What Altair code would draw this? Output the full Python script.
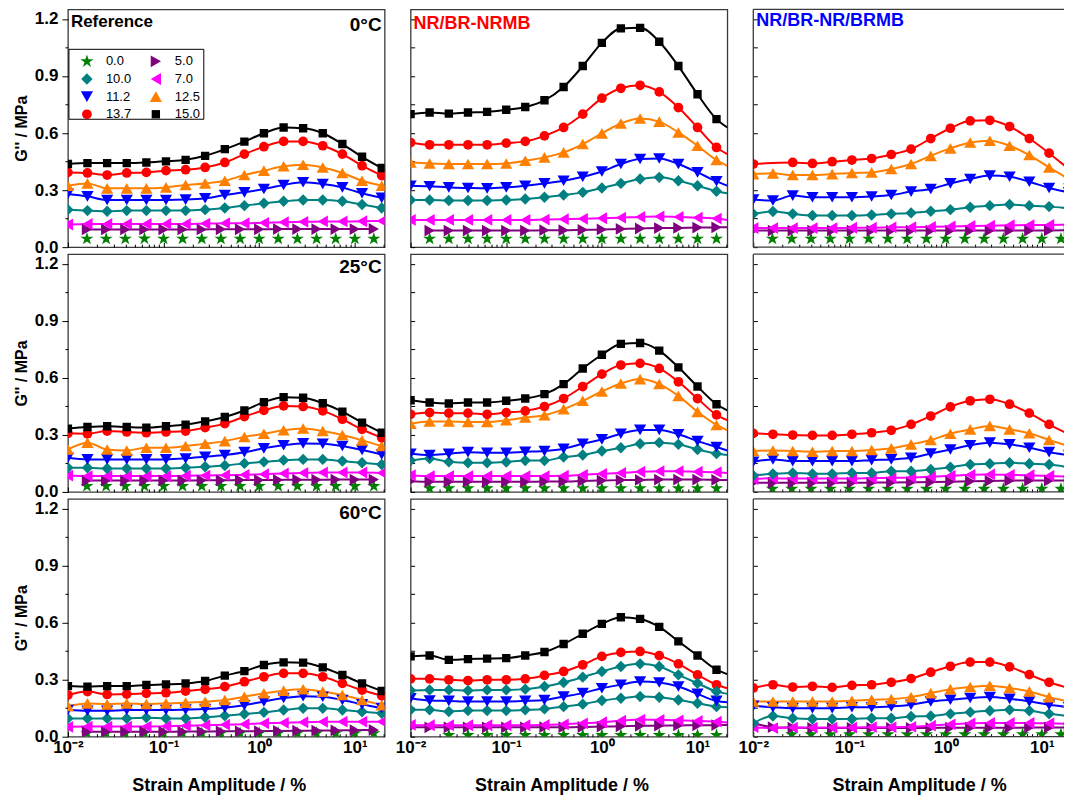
import altair as alt
import pandas as pd

FONT = "Liberation Sans"
FRAME = "#3a3a3a"

# Strain amplitude grids (%) of the two sweep programmes
STRAIN_A = [0.01, 0.016, 0.0257, 0.0412, 0.0661, 0.106, 0.170, 0.272, 0.437, 0.700,
            1.12, 1.80, 2.88, 4.62, 7.41, 11.9, 19.1]
STRAIN_B = [0.01, 0.0158, 0.0251, 0.0398, 0.0631, 0.1, 0.158, 0.251, 0.398, 0.631,
            1.0, 1.58, 2.51, 3.98, 6.31, 10.0, 15.8]
FIT_END = 20.5  # strain where the fitted curves of the NR/BR-NRMB series end

# Filler loading (legend order, filled row by row in two columns)
SERIES = ["0.0", "5.0", "10.0", "7.0", "11.2", "12.5", "13.7", "15.0"]
KEY_COL = [0, 1, 0, 1, 0, 1, 0, 1]
KEY_ROW = [0, 0, 1, 1, 2, 2, 3, 3]
COLORS = ["#008000", "#800080", "#008080", "#FF00FF", "#0000FF", "#FF8000", "#FF0000", "#000000"]
STAR = ("M0,-1L0.2245,-0.309L0.951,-0.309L0.363,0.118L0.588,0.809L0,0.382"
        "L-0.588,0.809L-0.363,0.118L-0.951,-0.309L-0.2245,-0.309Z")
SHAPES = [STAR, "triangle-right", "diamond", "triangle-left", "triangle-down",
          "triangle-up", "circle", "square"]
SIZES = [190, 140, 130, 140, 150, 150, 95, 70]
DRAW_ORDER = ["0.0", "5.0", "7.0", "10.0", "11.2", "12.5", "13.7", "15.0"]
TAIL_SERIES = ["5.0", "7.0", "10.0", "11.2", "12.5", "13.7", "15.0"]

# ---------------- Reference, 0 °C ----------------
REF_0C_000 = [None, 0.044, 0.044, 0.044, 0.045, 0.044, 0.044, 0.044, 0.044, 0.044, 0.044, 0.044, 0.044, 0.044, 0.044, 0.044, 0.044]
REF_0C_050 = [None, 0.093, 0.093, 0.093, 0.093, 0.093, 0.093, 0.093, 0.094, 0.094, 0.094, 0.095, 0.095, 0.095, 0.095, 0.095, 0.096]
REF_0C_070 = [0.119, 0.122, 0.122, 0.122, 0.122, 0.122, 0.122, 0.124, 0.126, 0.126, 0.128, 0.131, 0.133, 0.135, 0.135, 0.136, 0.138]
REF_0C_100 = [0.197, 0.192, 0.189, 0.192, 0.192, 0.192, 0.192, 0.197, 0.206, 0.218, 0.231, 0.241, 0.248, 0.248, 0.241, 0.224, 0.206]
REF_0C_112 = [0.280, 0.267, 0.248, 0.248, 0.248, 0.248, 0.250, 0.257, 0.274, 0.288, 0.306, 0.327, 0.341, 0.332, 0.314, 0.283, 0.259]
REF_0C_125 = [0.323, 0.335, 0.309, 0.309, 0.309, 0.314, 0.327, 0.335, 0.349, 0.379, 0.402, 0.425, 0.433, 0.419, 0.390, 0.349, 0.323]
REF_0C_137 = [0.393, 0.390, 0.379, 0.390, 0.393, 0.402, 0.407, 0.419, 0.445, 0.489, 0.528, 0.556, 0.556, 0.533, 0.489, 0.428, 0.376]
REF_0C_150 = [0.437, 0.442, 0.442, 0.442, 0.445, 0.451, 0.459, 0.480, 0.515, 0.555, 0.599, 0.629, 0.625, 0.599, 0.542, 0.475, 0.416]

# ---------------- NR/BR-NRMB, 0 °C ----------------
NRMB_0C_000 = [None, 0.044, 0.044, 0.044, 0.044, 0.044, 0.044, 0.044, 0.044, 0.044, 0.044, 0.044, 0.044, 0.044, 0.044, 0.044, 0.044]
NRMB_0C_050 = [None, 0.087, 0.087, 0.087, 0.087, 0.087, 0.087, 0.089, 0.089, 0.091, 0.093, 0.096, 0.098, 0.100, 0.101, 0.103, 0.104]
NRMB_0C_070 = [0.143, 0.143, 0.143, 0.143, 0.143, 0.143, 0.143, 0.145, 0.147, 0.149, 0.152, 0.155, 0.159, 0.161, 0.159, 0.155, 0.150]
NRMB_0C_100 = [0.248, 0.248, 0.245, 0.245, 0.245, 0.248, 0.253, 0.262, 0.274, 0.288, 0.311, 0.335, 0.358, 0.367, 0.349, 0.323, 0.294]
NRMB_0C_112 = [0.323, 0.320, 0.314, 0.311, 0.309, 0.314, 0.323, 0.335, 0.349, 0.370, 0.398, 0.437, 0.463, 0.466, 0.437, 0.393, 0.346]
NRMB_0C_125 = [0.445, 0.440, 0.437, 0.437, 0.437, 0.440, 0.454, 0.472, 0.498, 0.542, 0.598, 0.650, 0.676, 0.660, 0.603, 0.533, 0.458]
NRMB_0C_137 = [0.550, 0.538, 0.538, 0.538, 0.538, 0.547, 0.556, 0.585, 0.629, 0.699, 0.783, 0.835, 0.851, 0.816, 0.734, 0.629, 0.524]
NRMB_0C_150 = [0.699, 0.708, 0.702, 0.708, 0.711, 0.722, 0.737, 0.772, 0.842, 0.952, 1.074, 1.150, 1.153, 1.080, 0.952, 0.804, 0.673]
NRMB_0C_TAIL = [0.105, 0.143, 0.283, 0.323, 0.428, 0.489, 0.629]

# ---------------- NR/BR-NR/BRMB, 0 °C ----------------
NRBRMB_0C_000 = [None, 0.044, 0.044, 0.044, 0.044, 0.044, 0.044, 0.044, 0.044, 0.044, 0.044, 0.044, 0.044, 0.044, 0.044, 0.044, 0.044]
NRBRMB_0C_050 = [0.087, 0.087, 0.087, 0.087, 0.087, 0.087, 0.087, 0.087, 0.087, 0.087, 0.087, 0.087, 0.087, 0.087, 0.087, 0.088, 0.089]
NRBRMB_0C_070 = [0.100, 0.100, 0.100, 0.100, 0.100, 0.102, 0.102, 0.104, 0.105, 0.107, 0.109, 0.111, 0.113, 0.115, 0.116, 0.117, 0.119]
NRBRMB_0C_100 = [0.175, 0.187, 0.175, 0.166, 0.166, 0.166, 0.169, 0.175, 0.180, 0.189, 0.197, 0.210, 0.218, 0.224, 0.218, 0.213, 0.204]
NRBRMB_0C_112 = [0.250, 0.245, 0.271, 0.262, 0.262, 0.262, 0.266, 0.274, 0.292, 0.306, 0.335, 0.358, 0.376, 0.370, 0.344, 0.311, 0.288]
NRBRMB_0C_125 = [0.384, 0.388, 0.379, 0.379, 0.384, 0.390, 0.393, 0.411, 0.437, 0.480, 0.519, 0.550, 0.559, 0.533, 0.484, 0.419, 0.358]
NRBRMB_0C_137 = [0.437, None, 0.445, 0.440, 0.449, 0.458, 0.466, 0.487, 0.515, 0.571, 0.625, 0.664, 0.667, 0.634, 0.571, 0.494, 0.410]

# ---------------- Reference, 25 °C ----------------
REF_25C_000 = [None, 0.030, 0.030, 0.030, 0.030, 0.030, 0.030, 0.030, 0.030, 0.030, 0.030, 0.030, 0.030, 0.030, 0.030, 0.030, 0.030]
REF_25C_050 = [None, 0.060, 0.060, 0.060, 0.060, 0.060, 0.060, 0.061, 0.061, 0.062, 0.062, 0.063, 0.064, 0.064, 0.065, 0.065, 0.065]
REF_25C_070 = [0.086, 0.083, 0.083, 0.083, 0.083, 0.083, 0.085, 0.086, 0.088, 0.090, 0.093, 0.097, 0.100, 0.102, 0.102, 0.102, 0.100]
REF_25C_100 = [0.127, 0.127, 0.123, 0.123, 0.123, 0.123, 0.127, 0.132, 0.139, 0.150, 0.158, 0.167, 0.171, 0.171, 0.162, 0.153, 0.144]
REF_25C_112 = [0.179, 0.171, 0.171, 0.171, 0.171, 0.171, 0.176, 0.185, 0.194, 0.209, 0.229, 0.245, 0.255, 0.253, 0.241, 0.220, 0.197]
REF_25C_125 = [0.223, 0.259, 0.223, 0.218, 0.232, 0.232, 0.241, 0.253, 0.267, 0.289, 0.306, 0.324, 0.333, 0.320, 0.299, 0.271, 0.241]
REF_25C_137 = [0.308, 0.306, 0.320, 0.315, 0.311, 0.315, 0.320, 0.338, 0.359, 0.396, 0.429, 0.452, 0.449, 0.426, 0.382, 0.329, 0.285]
REF_25C_150 = [0.333, 0.341, 0.345, 0.341, 0.338, 0.345, 0.354, 0.371, 0.394, 0.428, 0.472, 0.498, 0.495, 0.466, 0.422, 0.364, 0.311]

# ---------------- NR/BR-NRMB, 25 °C ----------------
NRMB_25C_000 = [None, 0.018, 0.018, 0.018, 0.018, 0.018, 0.018, 0.018, 0.018, 0.018, 0.018, 0.018, 0.018, 0.018, 0.018, 0.018, 0.018]
NRMB_25C_050 = [0.056, 0.053, 0.053, 0.053, 0.053, 0.053, 0.053, 0.055, 0.055, 0.058, 0.060, 0.062, 0.063, 0.065, 0.065, 0.065, 0.063]
NRMB_25C_070 = [0.088, 0.083, 0.083, 0.083, 0.083, 0.083, 0.083, 0.083, 0.085, 0.090, 0.095, 0.100, 0.106, 0.109, 0.109, 0.106, 0.104]
NRMB_25C_100 = [0.165, 0.176, 0.158, 0.153, 0.153, 0.157, 0.165, 0.165, 0.183, 0.194, 0.215, 0.232, 0.253, 0.259, 0.250, 0.223, 0.201]
NRMB_25C_112 = [0.201, 0.194, 0.201, 0.209, 0.206, 0.206, 0.211, 0.215, 0.227, 0.253, 0.276, 0.306, 0.326, 0.326, 0.303, 0.267, 0.236]
NRMB_25C_125 = [0.359, 0.370, 0.370, 0.368, 0.368, 0.377, 0.391, 0.403, 0.435, 0.479, 0.528, 0.570, 0.593, 0.567, 0.505, 0.421, 0.352]
NRMB_25C_137 = [0.408, 0.417, 0.414, 0.414, 0.408, 0.417, 0.426, 0.449, 0.491, 0.554, 0.619, 0.667, 0.676, 0.649, 0.579, 0.491, 0.405]
NRMB_25C_150 = [0.482, 0.470, 0.465, 0.470, 0.470, 0.479, 0.491, 0.514, 0.567, 0.649, 0.721, 0.778, 0.783, 0.743, 0.655, 0.554, 0.461]
NRMB_25C_TAIL = [0.062, 0.100, 0.194, 0.218, 0.324, 0.377, 0.429]

# ---------------- NR/BR-NR/BRMB, 25 °C ----------------
NRBRMB_25C_000 = [None, 0.016, 0.016, 0.016, 0.016, 0.016, 0.016, 0.016, 0.016, 0.016, 0.016, 0.016, 0.016, 0.016, 0.016, 0.016, 0.016]
NRBRMB_25C_050 = [0.048, 0.048, 0.048, 0.048, 0.048, 0.048, 0.049, 0.050, 0.051, 0.052, 0.054, 0.056, 0.058, 0.059, 0.060, 0.060, 0.060]
NRBRMB_25C_070 = [0.068, 0.072, 0.070, 0.070, 0.070, 0.070, 0.072, 0.074, 0.076, 0.080, 0.085, 0.090, 0.092, 0.090, 0.088, 0.084, 0.080]
NRBRMB_25C_100 = [0.086, 0.095, 0.100, 0.095, 0.095, 0.100, 0.100, 0.109, 0.109, 0.118, 0.130, 0.144, 0.148, 0.153, 0.148, 0.144, 0.130]
NRBRMB_25C_112 = [0.158, 0.171, 0.162, 0.162, 0.162, 0.162, 0.167, 0.171, 0.179, 0.202, 0.223, 0.245, 0.259, 0.250, 0.232, 0.209, 0.194]
NRBRMB_25C_125 = [0.215, 0.218, 0.215, 0.211, 0.215, 0.215, 0.220, 0.229, 0.250, 0.273, 0.306, 0.329, 0.347, 0.329, 0.308, 0.273, 0.241]
NRBRMB_25C_137 = [0.308, 0.303, 0.299, 0.297, 0.297, 0.303, 0.311, 0.324, 0.355, 0.399, 0.447, 0.479, 0.487, 0.461, 0.414, 0.355, 0.303]

# ---------------- Reference, 60 °C ----------------
REF_60C_000 = [None, 0.018, 0.018, 0.018, 0.018, 0.018, 0.018, 0.018, 0.018, 0.018, 0.018, 0.018, 0.018, 0.018, 0.018, 0.018, 0.018]
REF_60C_050 = [None, 0.026, 0.026, 0.026, 0.026, 0.026, 0.027, 0.027, 0.028, 0.028, 0.029, 0.030, 0.031, 0.032, 0.033, 0.034, 0.035]
REF_60C_070 = [0.052, 0.053, 0.053, 0.053, 0.053, 0.055, 0.057, 0.060, 0.063, 0.066, 0.070, 0.073, 0.076, 0.078, 0.079, 0.079, 0.079]
REF_60C_100 = [0.096, 0.096, 0.096, 0.096, 0.100, 0.096, 0.096, 0.102, 0.110, 0.119, 0.128, 0.140, 0.149, 0.149, 0.140, 0.131, 0.123]
REF_60C_112 = [0.140, 0.136, 0.136, 0.140, 0.140, 0.140, 0.142, 0.145, 0.152, 0.165, 0.185, 0.203, 0.213, 0.210, 0.193, 0.170, 0.150]
REF_60C_125 = [0.161, 0.175, 0.170, 0.175, 0.172, 0.175, 0.179, 0.184, 0.193, 0.210, 0.228, 0.242, 0.249, 0.237, 0.219, 0.193, 0.166]
REF_60C_137 = [0.219, 0.237, 0.222, 0.224, 0.228, 0.231, 0.240, 0.249, 0.263, 0.289, 0.315, 0.333, 0.333, 0.315, 0.280, 0.245, 0.215]
REF_60C_150 = [0.266, 0.263, 0.266, 0.266, 0.272, 0.275, 0.280, 0.293, 0.321, 0.345, 0.377, 0.391, 0.389, 0.364, 0.324, 0.280, 0.240]

# ---------------- NR/BR-NRMB, 60 °C ----------------
NRMB_60C_000 = [None, None, 0.008, 0.008, 0.008, 0.008, 0.008, 0.008, 0.008, 0.008, 0.008, 0.008, 0.008, 0.008, 0.008, 0.008, 0.008]
NRMB_60C_050 = [0.049, 0.049, 0.049, 0.049, 0.049, 0.049, 0.049, 0.050, 0.050, 0.051, 0.053, 0.055, 0.057, 0.058, 0.059, 0.060, 0.061]
NRMB_60C_070 = [0.062, 0.060, 0.060, 0.060, 0.060, 0.060, 0.060, 0.062, 0.065, 0.070, 0.076, 0.084, 0.090, 0.088, 0.086, 0.083, 0.079]
NRMB_60C_100 = [0.141, 0.141, 0.132, 0.137, 0.137, 0.137, 0.141, 0.146, 0.158, 0.171, 0.190, 0.202, 0.211, 0.207, 0.193, 0.176, 0.158]
NRMB_60C_112 = [0.202, 0.190, 0.188, 0.185, 0.185, 0.185, 0.188, 0.193, 0.211, 0.229, 0.255, 0.273, 0.290, 0.285, 0.264, 0.225, 0.188]
NRMB_60C_125 = [0.243, 0.246, 0.246, 0.243, 0.246, 0.246, 0.250, 0.264, 0.285, 0.313, 0.343, 0.369, 0.383, 0.369, 0.325, 0.281, 0.237]
NRMB_60C_137 = [0.304, 0.304, 0.299, 0.295, 0.299, 0.299, 0.304, 0.322, 0.343, 0.378, 0.422, 0.443, 0.448, 0.426, 0.383, 0.325, 0.273]
NRMB_60C_150 = [0.422, 0.427, 0.404, 0.408, 0.410, 0.413, 0.427, 0.445, 0.487, 0.541, 0.593, 0.628, 0.619, 0.577, 0.501, 0.427, 0.352]
NRMB_60C_TAIL = [0.062, 0.075, 0.155, 0.181, 0.225, 0.255, 0.329]

# ---------------- NR/BR-NR/BRMB, 60 °C ----------------
NRBRMB_60C_000 = [None, None, 0.012, 0.012, 0.012, 0.012, 0.012, 0.012, 0.012, 0.012, 0.012, 0.012, 0.012, 0.012, 0.012, 0.012, 0.012]
NRBRMB_60C_050 = [0.072, 0.050, 0.048, 0.046, 0.046, 0.046, 0.046, 0.046, 0.046, 0.046, 0.047, 0.047, 0.047, 0.047, 0.048, 0.048, 0.048]
NRBRMB_60C_070 = [0.050, 0.045, 0.048, 0.048, 0.048, 0.048, 0.050, 0.050, 0.052, 0.058, 0.065, 0.070, 0.072, 0.072, 0.072, 0.070, 0.068]
NRBRMB_60C_100 = [0.071, 0.109, 0.097, 0.093, 0.093, 0.093, 0.097, 0.097, 0.106, 0.109, 0.120, 0.129, 0.136, 0.141, 0.136, 0.120, 0.109]
NRBRMB_60C_112 = [0.162, 0.155, 0.150, 0.150, 0.150, 0.155, 0.155, 0.159, 0.168, 0.185, 0.194, 0.203, 0.208, 0.199, 0.185, 0.168, 0.155]
NRBRMB_60C_125 = [0.185, 0.185, 0.185, 0.185, 0.185, 0.189, 0.194, 0.198, 0.208, 0.229, 0.250, 0.261, 0.268, 0.256, 0.238, 0.208, 0.185]
NRBRMB_60C_137 = [0.256, 0.273, 0.261, 0.265, 0.259, 0.270, 0.273, 0.286, 0.305, 0.339, 0.370, 0.392, 0.392, 0.367, 0.326, 0.286, 0.256]

# Axis ticks
Y_TICKS = [0.0, 0.15, 0.3, 0.45, 0.6, 0.75, 0.9, 1.05, 1.2]
X_TICKS = [round(m * 10.0 ** e, 6) for e in (-2, -1, 0, 1) for m in range(1, 10)] + [20.0]

PANEL_W = [317, 317, 311]
PANEL_H = 238
X_MAX = [20.5, 20.5, 17.0]
X_TITLE_X = [151, 151, 166]
TEMPS = ["0°C", "25°C", "60°C"]
TEMP_Y = [16, 13, 14]

MAJOR_Y = "abs(datum.value / 0.3 - round(datum.value / 0.3)) < 0.01"
DEC = "round(log(datum.value) / LN10)"
MAJOR_X = f"abs(log(datum.value) / LN10 - {DEC}) < 0.01"
X_LABEL = (f"{MAJOR_X} ? ({DEC} == -2 ? '10⁻²' : {DEC} == -1 ? '10⁻¹' : "
           f"{DEC} == 0 ? '10⁰' : '10¹') : ''")
Y_LABEL = f"{MAJOR_Y} ? format(datum.value, '.1f') : ''"


def series_set(s000, s050, s070, s100, s112, s125, s137, s150, grid, star_grid, purple_grid):
    out = {"0.0": (star_grid, s000), "5.0": (purple_grid, s050), "7.0": (grid, s070),
           "10.0": (grid, s100), "11.2": (grid, s112), "12.5": (grid, s125),
           "13.7": (grid, s137)}
    if s150 is not None:
        out["15.0"] = (grid, s150)
    return out


PANELS = [
    [series_set(REF_0C_000, REF_0C_050, REF_0C_070, REF_0C_100, REF_0C_112, REF_0C_125, REF_0C_137, REF_0C_150,
                STRAIN_A, STRAIN_B, STRAIN_B),
     series_set(NRMB_0C_000, NRMB_0C_050, NRMB_0C_070, NRMB_0C_100, NRMB_0C_112, NRMB_0C_125, NRMB_0C_137, NRMB_0C_150,
                STRAIN_B, STRAIN_B, STRAIN_B),
     series_set(NRBRMB_0C_000, NRBRMB_0C_050, NRBRMB_0C_070, NRBRMB_0C_100, NRBRMB_0C_112, NRBRMB_0C_125, NRBRMB_0C_137, None,
                STRAIN_A, STRAIN_B, STRAIN_A)],
    [series_set(REF_25C_000, REF_25C_050, REF_25C_070, REF_25C_100, REF_25C_112, REF_25C_125, REF_25C_137, REF_25C_150,
                STRAIN_A, STRAIN_B, STRAIN_B),
     series_set(NRMB_25C_000, NRMB_25C_050, NRMB_25C_070, NRMB_25C_100, NRMB_25C_112, NRMB_25C_125, NRMB_25C_137, NRMB_25C_150,
                STRAIN_B, STRAIN_B, STRAIN_B),
     series_set(NRBRMB_25C_000, NRBRMB_25C_050, NRBRMB_25C_070, NRBRMB_25C_100, NRBRMB_25C_112, NRBRMB_25C_125, NRBRMB_25C_137, None,
                STRAIN_A, STRAIN_B, STRAIN_A)],
    [series_set(REF_60C_000, REF_60C_050, REF_60C_070, REF_60C_100, REF_60C_112, REF_60C_125, REF_60C_137, REF_60C_150,
                STRAIN_A, STRAIN_B, STRAIN_B),
     series_set(NRMB_60C_000, NRMB_60C_050, NRMB_60C_070, NRMB_60C_100, NRMB_60C_112, NRMB_60C_125, NRMB_60C_137, NRMB_60C_150,
                STRAIN_B, STRAIN_B, STRAIN_B),
     series_set(NRBRMB_60C_000, NRBRMB_60C_050, NRBRMB_60C_070, NRBRMB_60C_100, NRBRMB_60C_112, NRBRMB_60C_125, NRBRMB_60C_137, None,
                STRAIN_A, STRAIN_B, STRAIN_A)],
]
TAILS = [[None, NRMB_0C_TAIL, None], [None, NRMB_25C_TAIL, None], [None, NRMB_60C_TAIL, None]]


def panel_frame(entries, tails):
    rows = []
    for name in DRAW_ORDER:
        if name not in entries:
            continue
        grid, vals = entries[name]
        for x, v in zip(grid, vals):
            if v is not None:
                rows.append({"strain": x, "g": v, "series": name, "kind": "point"})
    if tails:
        for name, v in zip(TAIL_SERIES, tails):
            rows.append({"strain": FIT_END, "g": v, "series": name, "kind": "fit"})
    return pd.DataFrame(rows)


def x_axis(r, c):
    common = dict(values=[v for v in X_TICKS if v <= X_MAX[c]], domain=False, grid=False,
                  ticks=True, tickColor="black", tickWidth=1,
                  tickSize={"condition": {"test": MAJOR_X, "value": -5}, "value": -3})
    if r == 2:
        return alt.Axis(**common, labels=True, labelExpr=X_LABEL, labelFont=FONT,
                        labelFontSize=17, labelFontWeight="bold", labelColor="black",
                        labelPadding=8, labelFlush=False, labelOverlap=False,
                        title="Strain Amplitude / %", titleFont=FONT, titleFontSize=18,
                        titleFontWeight="bold", titleColor="black", titleX=X_TITLE_X[c],
                        titleY=54, titleAlign="center", titleBaseline="alphabetic")
    return alt.Axis(**common, labels=False, title=None)


def y_axis(c):
    common = dict(values=Y_TICKS, domain=False, grid=False, ticks=True,
                  tickColor="black", tickWidth=1)
    if c == 0:
        return alt.Axis(**common,
                        tickSize={"condition": {"test": MAJOR_Y, "value": 6}, "value": 3},
                        labelExpr=Y_LABEL, labelFont=FONT, labelFontSize=17,
                        labelFontWeight="bold", labelColor="black", labelPadding=4,
                        labelOverlap=False, title="G'' / MPa", titleFont=FONT,
                        titleFontSize=16, titleFontWeight="bold", titleColor="black",
                        titleX=-38, titleY=PANEL_H / 2, titleAngle=270,
                        titleAlign="center", titleBaseline="bottom")
    return alt.Axis(**common, labels=False, title=None,
                    tickSize={"condition": {"test": MAJOR_Y, "value": -4}, "value": -4})


def note(text, x, y, align, size, color="black"):
    return alt.Chart(pd.DataFrame({"label": [text]})).mark_text(
        align=align, baseline="middle", font=FONT, fontSize=size,
        fontWeight="bold", color=color
    ).encode(x=alt.value(x), y=alt.value(y), text="label:N")


color_scale = alt.Scale(domain=SERIES, range=COLORS)
shape_scale = alt.Scale(domain=SERIES, range=SHAPES)
size_scale = alt.Scale(type="ordinal", domain=SERIES, range=SIZES)


def symbol_encoding():
    return dict(color=alt.Color("series:N", scale=color_scale, legend=None),
                shape=alt.Shape("series:N", scale=shape_scale, legend=None),
                size=alt.Size("series:N", scale=size_scale, legend=None))


def key_box():
    """Boxed two-column key of filler loadings, drawn with the panel's own symbol scales."""
    key = pd.DataFrame({"series": SERIES, "col": KEY_COL, "row": KEY_ROW})
    kx = alt.X("col:Q", axis=None, scale=alt.Scale(domain=[0, 1], range=[19, 88]))
    ky = alt.Y("row:Q", axis=None, scale=alt.Scale(domain=[0, 3], range=[52, 105]))
    box = alt.Chart(pd.DataFrame({"k": [0]})).mark_rect(
        fill="white", stroke="black", strokeWidth=1
    ).encode(x=alt.value(1), x2=alt.value(136), y=alt.value(40), y2=alt.value(110))
    syms = alt.Chart(key).mark_point(filled=True, opacity=1, strokeWidth=0).encode(
        x=kx, y=ky, **symbol_encoding())
    labs = alt.Chart(key).mark_text(
        align="left", baseline="middle", dx=19, font=FONT, fontSize=13, color="black"
    ).encode(x=kx, y=ky, text="series:N")
    return alt.layer(box, syms, labs)


def build_panel(r, c):
    df = panel_frame(PANELS[r][c], TAILS[r][c])
    w = PANEL_W[c]
    x_enc = alt.X("strain:Q", axis=x_axis(r, c),
                  scale=alt.Scale(type="log", domain=[0.01, X_MAX[c]], nice=False))
    y_enc = alt.Y("g:Q", axis=y_axis(c),
                  scale=alt.Scale(domain=[0, 1.25], nice=False, zero=False))
    # at 60 °C the 12.5 phr NR/BR-NRMB sweep is drawn with teal diamonds
    teal_125 = (r, c) == (2, 1)
    skip = " && datum.series != '12.5'" if teal_125 else ""

    base = alt.Chart(df)
    layers = [
        base.transform_filter("datum.series != '0.0'" + skip)
        .mark_line(strokeWidth=2, interpolate="monotone", clip=True)
        .encode(x=x_enc, y=y_enc,
                color=alt.Color("series:N", scale=color_scale, legend=None)),
    ]
    if teal_125:
        layers.append(
            base.transform_filter("datum.series == '12.5'")
            .mark_line(strokeWidth=2, interpolate="monotone", clip=True, color="#008080")
            .encode(x=x_enc, y=y_enc))
    layers.append(
        base.transform_filter("datum.kind == 'point'" + skip)
        .mark_point(filled=True, opacity=1, strokeWidth=0, clip=True)
        .encode(x=x_enc, y=y_enc, **symbol_encoding()))
    if teal_125:
        layers.append(
            base.transform_filter("datum.kind == 'point' && datum.series == '12.5'")
            .mark_point(filled=True, opacity=1, strokeWidth=0, clip=True,
                        color="#008080", shape="diamond", size=130)
            .encode(x=x_enc, y=y_enc))

    props = dict(width=w, height=PANEL_H)
    if c == 2:
        # right-hand column runs off the page: frame only on three sides
        edge = alt.Chart(pd.DataFrame({"k": [0]}))
        layers += [
            edge.mark_rule(color=FRAME, strokeWidth=1.3).encode(
                x=alt.value(0), x2=alt.value(w), y=alt.value(0)),
            edge.mark_rule(color=FRAME, strokeWidth=1.3).encode(
                x=alt.value(0), x2=alt.value(w), y=alt.value(PANEL_H)),
            edge.mark_rule(color=FRAME, strokeWidth=1.3).encode(
                x=alt.value(0), y=alt.value(0), y2=alt.value(PANEL_H)),
        ]
        props["view"] = alt.ViewBackground(strokeWidth=0, strokeOpacity=0)

    if c == 0:
        layers.append(note(TEMPS[r], w - 3, TEMP_Y[r], "right", 19))
        if r == 0:
            layers.append(note("Reference", 3, 13, "left", 17))
    if c == 1 and r == 0:
        layers.append(note("NR/BR-NRMB", 3, 15, "left", 18, "#FF0000"))
    if c == 2 and r == 0:
        layers.append(note("NR/BR-NR/BRMB", 3, 12, "left", 18, "#0000FF"))

    panel = alt.layer(*layers)
    if (r, c) == (0, 0):
        panel = alt.layer(panel, key_box()).resolve_scale(x="independent", y="independent")
    return panel.properties(**props)


RESOLVE = dict(x="independent", y="independent")

panels = [build_panel(r, c) for r in range(3) for c in range(3)]

chart = (
    alt.concat(*panels, columns=3, spacing={"row": 7, "column": 26}, bounds="flush")
    .resolve_scale(**RESOLVE)
    .properties(padding={"left": 13, "top": 8, "right": 0, "bottom": 0},
                background="white")
    .configure_view(stroke=FRAME, strokeWidth=1.3)
)

chart.save("out.html", embed_options={"renderer": "svg", "actions": False})
